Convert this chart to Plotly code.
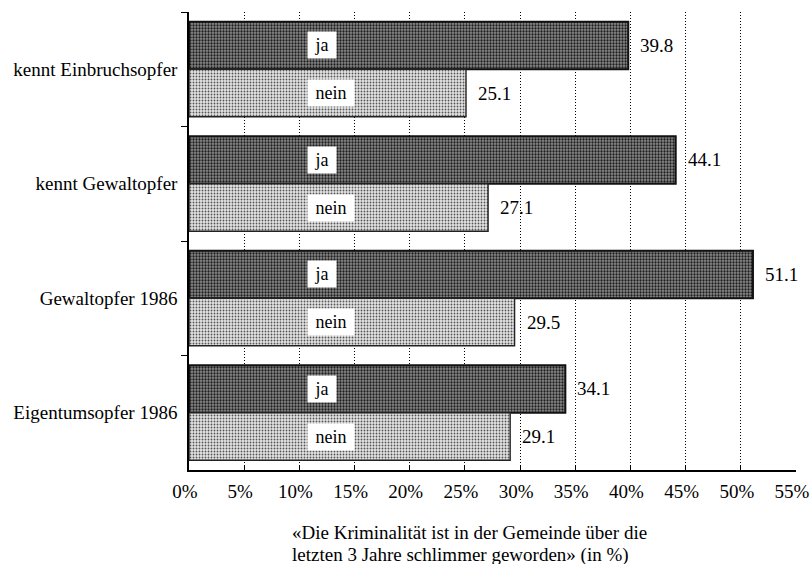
import plotly.graph_objects as go

categories = ['kennt Einbruchsopfer', 'kennt Gewaltopfer',
              'Gewaltopfer 1986', 'Eigentumsopfer 1986']
ja = [39.8, 44.1, 51.1, 34.1]
nein = [25.1, 27.1, 29.5, 29.1]
tick_vals = [0, 5, 10, 15, 20, 25, 30, 35, 40, 45, 50, 55]
tick_text = [f'{v}%' for v in tick_vals]

FONT = 'Liberation Serif, Times New Roman, serif'
bargap = 0.17
half = (1 - bargap) / 4  # centre offset of each bar inside a group

fig = go.Figure()

fig.add_trace(
    go.Bar(
        y=categories,
        x=ja,
        orientation='h',
        name='ja',
        marker=dict(
            color='#6a6a6a',
            line=dict(color='#111111', width=2),
            pattern=dict(shape='.', fgcolor='#1e1e1e', bgcolor='#8a8a8a',
                         size=3, solidity=0.45, fillmode='replace'),
        ),
    )
)

fig.add_trace(
    go.Bar(
        y=categories,
        x=nein,
        orientation='h',
        name='nein',
        marker=dict(
            color='#c4c4c4',
            line=dict(color='#222222', width=1.4),
            pattern=dict(shape='.', fgcolor='#555555', bgcolor='#e4e4e4',
                         size=3, solidity=0.3, fillmode='replace'),
        ),
    )
)

annotations = []
for i, cat in enumerate(categories):
    for val, lab, off in ((ja[i], 'ja', -half), (nein[i], 'nein', half)):
        # value label right of the bar
        annotations.append(dict(
            x=val, y=i + off, xref='x', yref='y', text=f'{val:.1f}',
            showarrow=False, xanchor='left', xshift=10,
            font=dict(family=FONT, size=19, color='black'),
        ))
        # white box with series name inside the bar
        annotations.append(dict(
            x=10.7, y=i + off, xref='x', yref='y',
            text=f'&nbsp;{lab}&nbsp;',
            showarrow=False, xanchor='left', bgcolor='white', borderpad=3,
            font=dict(family=FONT, size=18, color='black'),
        ))

title_lines = ['«Die Kriminalität ist in der Gemeinde über die',
               'letzten 3 Jahre schlimmer geworden» (in %)']
for k, line in enumerate(title_lines):
    annotations.append(dict(
        x=0.166, y=-0.137 - 0.048 * k, xref='paper', yref='paper',
        text=line, showarrow=False, xanchor='left', yanchor='middle',
        font=dict(family=FONT, size=19, color='black'),
    ))

fig.update_layout(
    width=810, height=564,
    margin={'t': 12, 'r': 14, 'b': 94, 'l': 189},
    plot_bgcolor='white', paper_bgcolor='white',
    barmode='group', bargap=bargap, bargroupgap=0,
    showlegend=False,
    font=dict(family=FONT, size=19, color='black'),
    annotations=annotations,
)

fig.update_xaxes(
    range=[0, 55], automargin=False,
    tickvals=tick_vals, ticktext=tick_text,
    showgrid=True, gridcolor='black', griddash='1px,2px', gridwidth=1,
    showline=True, linecolor='black', linewidth=1.8,
    ticks='inside', ticklen=4, tickcolor='black',
    ticklabelshift=-4, ticklabelstandoff=3,
    tickfont=dict(family=FONT, size=19),
    zeroline=False,
)

fig.update_yaxes(
    type='category', autorange='reversed', automargin=False,
    showline=True, linecolor='black', linewidth=1.5,
    ticks='outside', ticklen=6, tickcolor='black', tickson='boundaries',
    ticklabelstandoff=6,
    showgrid=False,
    tickfont=dict(family=FONT, size=19),
)

fig.write_html('out.html', config={'displayModeBar': False},
               post_script="document.body.style.margin='0';")
